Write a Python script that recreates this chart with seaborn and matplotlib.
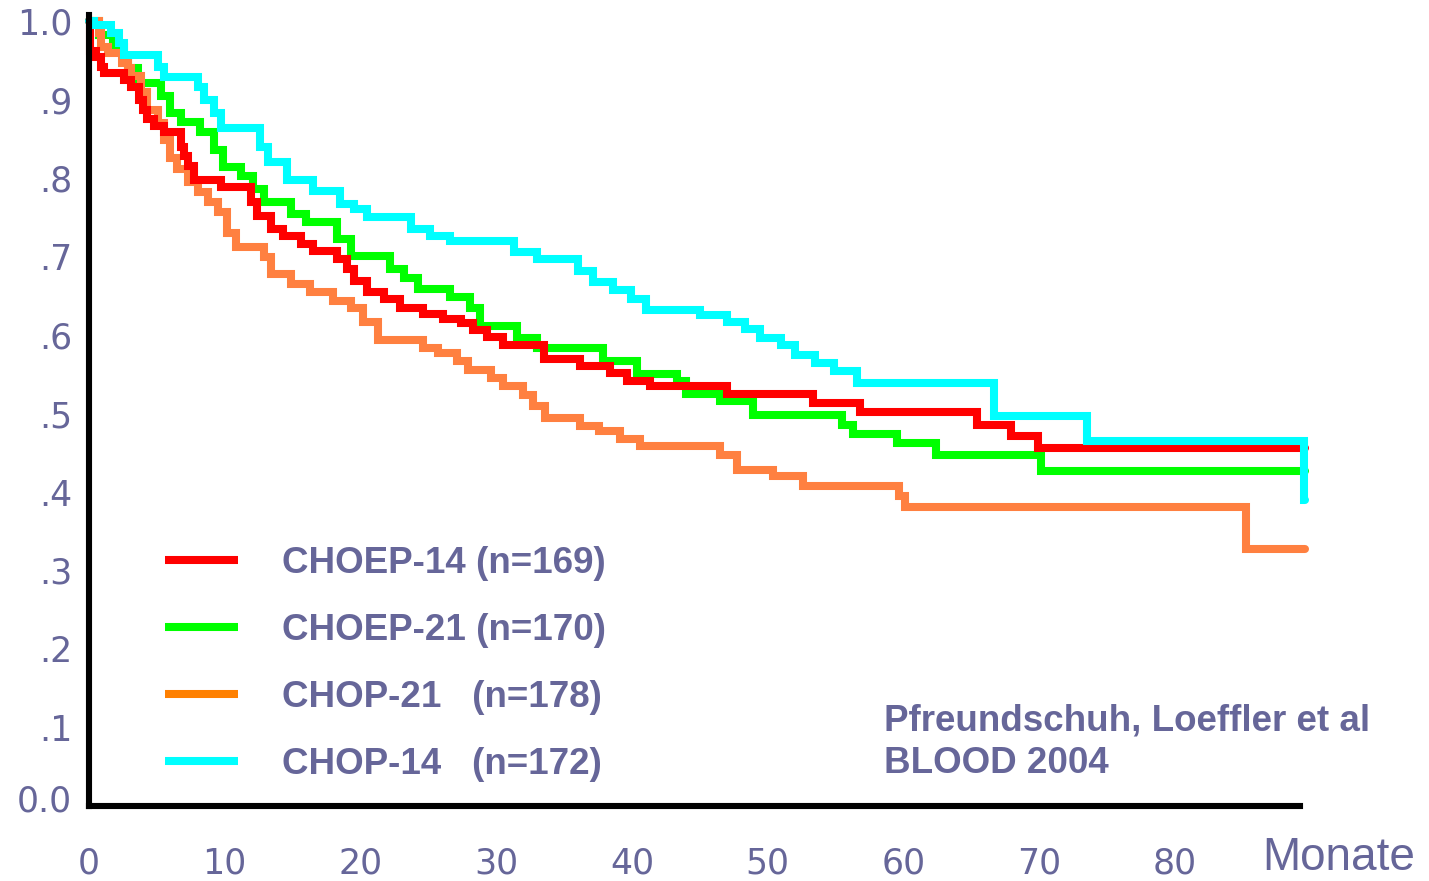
import numpy as np
import pandas as pd
import matplotlib
matplotlib.use("Agg")
import matplotlib.pyplot as plt
from matplotlib.lines import Line2D
from matplotlib.font_manager import FontProperties
from matplotlib.transforms import ScaledTranslation
import seaborn as sns

# Kaplan-Meier step curves (months, survival proportion) per treatment arm
choep14_t = [0, 0.05, 0.5, 0.9, 1.1, 2.6, 3.1, 3.7, 4.0, 4.3, 4.8, 5.5, 6.8, 7.0, 7.3,
             7.7, 9.7, 11.9, 12.4, 13.4, 14.3, 15.6, 16.5, 18.3, 19.0, 19.5, 20.5, 21.7,
             22.9, 24.6, 26.1, 27.4, 28.3, 29.3, 30.5, 33.5, 36.2, 38.4, 39.6, 41.3,
             47.0, 53.3, 56.8, 65.4, 67.9, 69.9, 89.6]
choep14_s = [1.0, 0.962, 0.954, 0.942, 0.934, 0.925, 0.916, 0.900, 0.887, 0.875, 0.866,
             0.858, 0.840, 0.828, 0.815, 0.798, 0.788, 0.769, 0.752, 0.735, 0.726, 0.716,
             0.707, 0.697, 0.684, 0.669, 0.655, 0.646, 0.634, 0.627, 0.621, 0.615, 0.606,
             0.598, 0.587, 0.570, 0.561, 0.551, 0.542, 0.535, 0.525, 0.513, 0.502, 0.485,
             0.471, 0.456, 0.456]

choep21_t = [0, 0.7, 1.8, 2.6, 2.9, 3.6, 5.3, 6.0, 6.8, 8.2, 9.2, 9.9, 11.2, 12.1, 12.9,
             14.9, 16.0, 18.3, 19.3, 22.2, 23.2, 24.2, 26.6, 28.1, 28.8, 31.5, 33.0, 37.9,
             40.4, 43.3, 44.0, 46.5, 48.9, 55.5, 56.3, 59.5, 62.4, 70.1, 89.6]
choep21_s = [1.0, 0.982, 0.967, 0.950, 0.940, 0.921, 0.905, 0.883, 0.871, 0.858, 0.836,
             0.814, 0.802, 0.786, 0.769, 0.754, 0.744, 0.722, 0.701, 0.684, 0.672, 0.659,
             0.649, 0.634, 0.611, 0.596, 0.583, 0.567, 0.550, 0.541, 0.525, 0.516, 0.498,
             0.485, 0.474, 0.463, 0.447, 0.427, 0.427]

chop21_t = [0, 0.7, 0.9, 1.4, 2.4, 2.9, 3.1, 3.8, 4.3, 5.1, 5.5, 6.0, 6.5, 7.3, 8.0, 8.8,
            9.5, 10.2, 10.8, 12.9, 13.4, 14.9, 16.3, 18.0, 19.3, 20.2, 21.3, 24.6, 25.7,
            27.1, 27.9, 29.6, 30.5, 32.0, 32.7, 33.6, 36.2, 37.6, 39.1, 40.6, 46.5, 47.7,
            50.4, 52.6, 59.7, 60.1, 85.2, 89.6]
chop21_s = [1.0, 0.985, 0.967, 0.959, 0.947, 0.940, 0.930, 0.910, 0.887, 0.870, 0.849,
            0.825, 0.811, 0.795, 0.782, 0.769, 0.757, 0.730, 0.712, 0.700, 0.678, 0.665,
            0.655, 0.643, 0.634, 0.617, 0.594, 0.583, 0.577, 0.567, 0.555, 0.545, 0.535,
            0.523, 0.510, 0.494, 0.484, 0.478, 0.468, 0.459, 0.447, 0.428, 0.420, 0.408,
            0.395, 0.381, 0.327, 0.327]

chop14_t = [0, 0.4, 1.6, 2.2, 2.6, 5.1, 5.5, 8.0, 8.5, 9.2, 9.7, 12.6, 13.2, 14.6, 16.5,
            18.5, 19.5, 20.5, 23.7, 25.1, 26.6, 31.3, 33.0, 36.0, 37.1, 38.6, 39.9, 41.0,
            45.0, 47.0, 48.3, 49.4, 51.0, 52.0, 53.5, 54.9, 56.6, 66.7, 73.5, 89.5, 89.6]
chop14_s = [1.0, 0.995, 0.985, 0.972, 0.957, 0.942, 0.929, 0.916, 0.900, 0.883, 0.864,
            0.840, 0.820, 0.798, 0.783, 0.767, 0.760, 0.750, 0.735, 0.726, 0.720, 0.706,
            0.697, 0.681, 0.668, 0.657, 0.646, 0.632, 0.625, 0.617, 0.608, 0.596, 0.587,
            0.574, 0.564, 0.554, 0.539, 0.497, 0.465, 0.390, 0.390]

arms = ["CHOEP-14", "CHOEP-21", "CHOP-21", "CHOP-14"]
n_patients = [169, 170, 178, 172]
legend_labels = ["CHOEP-14 (n=169)", "CHOEP-21 (n=170)",
                 "CHOP-21   (n=178)", "CHOP-14   (n=172)"]
x_ticks = [0, 10, 20, 30, 40, 50, 60, 70, 80]
y_ticks = [0.0, 0.1, 0.2, 0.3, 0.4, 0.5, 0.6, 0.7, 0.8, 0.9, 1.0]
y_tick_labels = ["0.0", ".1", ".2", ".3", ".4", ".5", ".6", ".7", ".8", ".9", "1.0"]

curve_colors = {"CHOEP-14": "#ff0000", "CHOEP-21": "#00ff00",
                "CHOP-21": "#ff8040", "CHOP-14": "#00ffff"}
legend_colors = ["#ff0000", "#00ff00", "#ff8000", "#00ffff"]
text_color = "#666699"

series = {"CHOEP-14": (choep14_t, choep14_s), "CHOEP-21": (choep21_t, choep21_s),
          "CHOP-21": (chop21_t, chop21_s), "CHOP-14": (chop14_t, chop14_s)}
df = pd.concat(
    [pd.DataFrame({"Monate": t, "Anteil": s, "Arm": arm}) for arm, (t, s) in series.items()],
    ignore_index=True,
)

sns.set_theme(style="white")
plt.rcParams["font.family"] = ["DejaVu Sans"]

W, H = 1429, 881
fig = plt.figure(figsize=(W / 100, H / 100), dpi=100)
ax = fig.add_axes([89 / W, 75 / H, 1211 / W, 791 / H])

draw_order = ["CHOEP-21", "CHOP-21", "CHOEP-14", "CHOP-14"]
sns.lineplot(data=df, x="Monate", y="Anteil", hue="Arm", hue_order=draw_order,
             palette=curve_colors, estimator=None, sort=False, drawstyle="steps-post",
             linewidth=5.8, solid_joinstyle="miter", legend=False, clip_on=False, ax=ax)

ax.set_xlim(0, 1211 / 13.575)
ax.set_ylim(0, 791 / 785)

for side in ["top", "right"]:
    ax.spines[side].set_visible(False)
for side in ["left", "bottom"]:
    ax.spines[side].set_color("black")
    ax.spines[side].set_linewidth(4.4)
    ax.spines[side].set_zorder(5)

ax.set_xticks(x_ticks)
ax.set_xticklabels([str(v) for v in x_ticks])
ax.set_yticks(y_ticks)
ax.set_yticklabels(y_tick_labels)
ax.tick_params(axis="x", length=0, pad=29, labelsize=25, labelcolor=text_color)
ax.tick_params(axis="y", length=0, pad=12, labelsize=25, labelcolor=text_color)

# the "0.0" label sits a little above the baseline of the axis
zero_label = ax.yaxis.get_major_ticks()[0].label1
zero_label.set_transform(zero_label.get_transform()
                         + ScaledTranslation(0, 8 / 100, fig.dpi_scale_trans))

ax.set_ylabel("")
ax.set_xlabel("Monate", fontsize=33, family="Liberation Sans", color=text_color,
              ha="left", va="baseline")
ax.xaxis.set_label_coords((1262 - 89) / 1211, (806 - 870) / 791)

bold = FontProperties(family="Liberation Sans", weight="bold", size=26.5)
handles = [Line2D([], [], color=c, linewidth=5.8, solid_capstyle="butt") for c in legend_colors]
ax.legend(handles=handles, labels=legend_labels, loc="upper left",
          bbox_to_anchor=(165 / W, 1 - 546 / H), bbox_transform=fig.transFigure,
          frameon=False, prop=bold, labelcolor=text_color, handlelength=1.98,
          handletextpad=1.2, labelspacing=0.87, borderpad=0, borderaxespad=0)

fig.text(884 / W, 1 - 730 / H, "Pfreundschuh, Loeffler et al", fontproperties=bold,
         color=text_color, ha="left", va="baseline")
fig.text(884 / W, 1 - 773 / H, "BLOOD 2004", fontproperties=bold,
         color=text_color, ha="left", va="baseline")

fig.savefig("out.png", dpi=100, facecolor="white")
